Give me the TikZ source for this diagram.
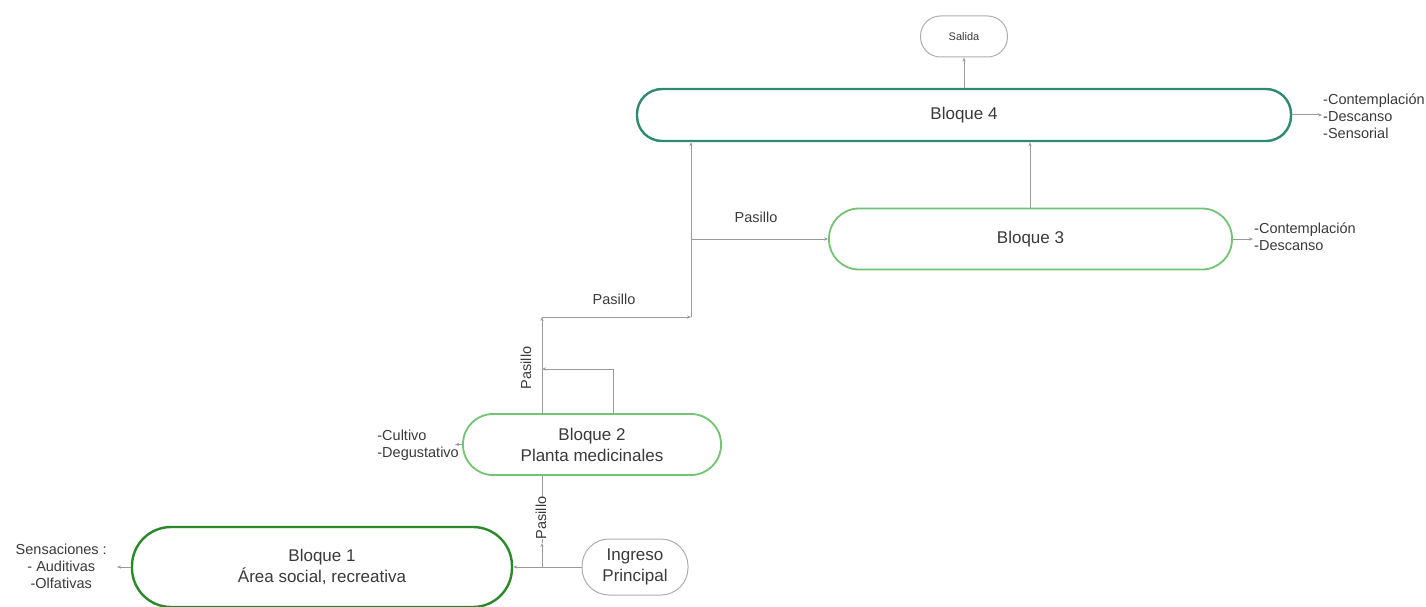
\documentclass[tikz,border=0pt]{standalone}
\usepackage{fontspec}
\setmainfont{Liberation Sans}
\usetikzlibrary{arrows.meta}
\definecolor{txt}{HTML}{3A3A3A}
\definecolor{lin}{HTML}{9A9A9A}
\definecolor{gdark}{HTML}{2A8A2A}
\definecolor{glight}{HTML}{72C472}
\definecolor{gteal}{HTML}{2E8A70}
\tikzset{
  blk/.style={draw, fill=white, align=center, text=txt, font=\fontsize{17}{21}\selectfont, inner sep=0pt},
  conn/.style={draw=lin, line width=1pt, -{Stealth[length=4pt,width=3.2pt]}},
  plain/.style={draw=lin, line width=1pt},
  side/.style={text=txt, font=\fontsize{14.5}{17}\selectfont, align=left, inner sep=0pt},
  lbl/.style={text=txt, font=\fontsize{14.5}{17}\selectfont, inner sep=1pt},
}
\begin{document}
\begin{tikzpicture}[x=1pt,y=-1pt]
\useasboundingbox (0,0) rectangle (1426,607);
% blocks
\node[blk, draw=gdark, line width=2.4pt, minimum width=380pt, minimum height=80pt, rounded corners=39pt] (b1) at (322,567) {Bloque 1\\Área social, recreativa};
\node[blk, draw=lin!80, line width=1pt, minimum width=106pt, minimum height=56pt, rounded corners=27pt] (ing) at (635,567) {Ingreso\\Principal};
\node[blk, draw=glight, line width=1.8pt, minimum width=258pt, minimum height=61pt, rounded corners=30pt] (b2) at (592,444.5) {Bloque 2\\Planta medicinales};
\node[blk, draw=glight, line width=1.8pt, minimum width=403pt, minimum height=61pt, rounded corners=30pt] (b3) at (1030.5,239) {Bloque 3};
\node[blk, draw=gteal, line width=2.4pt, minimum width=654pt, minimum height=52pt, rounded corners=25pt] (b4) at (964,115) {Bloque 4};
\node[blk, draw=lin!80, line width=1pt, minimum width=87pt, minimum height=41pt, rounded corners=20pt, font=\fontsize{11}{13}\selectfont] (sal) at (964,36.5) {Salida};

% side texts
\node[side, align=center, anchor=east] (s1) at (107,566) {Sensaciones :\\- Auditivas\\-Olfativas};
\coordinate (s1a) at (117,567);
\node[side, anchor=east] (s2) at (459,445.5) {-Cultivo\\-Degustativo};
\coordinate (s2a) at (455,444.5);
\node[side, anchor=west] (s3) at (1254,236.5) {-Contemplación\\-Descanso};
\coordinate (s3a) at (1253,239);
\node[side, anchor=west] (s4) at (1323,116) {-Contemplación\\-Descanso\\-Sensorial};
\coordinate (s4a) at (1322,115);

\draw[conn] (b1.west) -- (s1a);
\draw[conn] (b2.west) -- (s2a);
\draw[conn] (b3.east) -- (s3a);
\draw[conn] (b4.east) -- (s4a);

% entrance connections
\coordinate (j1) at (542,567);
\coordinate (j1a) at (542,543);
\draw[plain] (ing.west) -- (j1);
\draw[conn] (j1) -- (b1.east);
\draw[conn] (j1) -- (j1a);
\draw[plain] (j1a) -- (b2.south -| j1a);
\node[lbl, rotate=90, fill=white, inner sep=0pt] (p1) at (541,518) {Pasillo};

% from bloque 2 up
\coordinate (c1) at (542,317);
\coordinate (c2) at (613,369);
\coordinate (c2e) at (542,369);
\coordinate (c3) at (691,317);
\coordinate (c4) at (691,239);
\draw[conn] (b2.north -| c1) -- (c1);
\node[lbl, rotate=90] (p2) at (526,368) {Pasillo};
\draw[plain] (b2.north -| c2) -- (c2);
\draw[conn] (c2) -- (c2e);
\draw[conn] (c1) -- (c3);
\node[lbl] (p3) at (614,299) {Pasillo};
\draw[conn] (c3) -- (b4.south -| c3);
\draw[conn] (c4) -- (b3.west);
\node[lbl] (p4) at (756,217) {Pasillo};
\draw[conn] (b3.north -| 1030,0) -- (b4.south -| 1030,0);
\draw[conn] (b4.north) -- (sal.south);
\end{tikzpicture}
\end{document}
